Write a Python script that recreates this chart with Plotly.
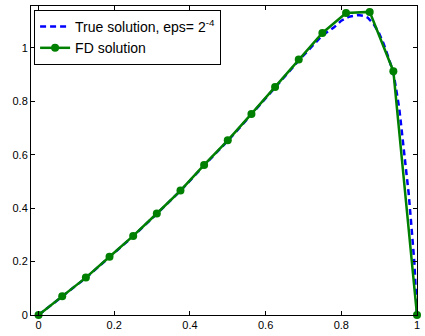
import plotly.graph_objects as go

# FD solution at x = k/16
fd_x = [0, 0.0625, 0.125, 0.1875, 0.25, 0.3125, 0.375, 0.4375, 0.5,
        0.5625, 0.625, 0.6875, 0.75, 0.8125, 0.875, 0.9375, 1.0]
fd_y = [0, 0.070, 0.140, 0.218, 0.296, 0.380, 0.466, 0.562, 0.654,
        0.753, 0.854, 0.957, 1.056, 1.131, 1.135, 0.913, 0]

# True solution
true_x = [0, 0.0625, 0.125, 0.1875, 0.25, 0.3125, 0.375, 0.4375, 0.5,
          0.5625, 0.625, 0.6875, 0.75, 0.78, 0.80, 0.82, 0.844, 0.86, 0.87,
          0.885, 0.899, 0.912, 0.925, 0.938, 0.953, 0.968, 0.978, 0.986,
          0.993, 1.0]
true_y = [0, 0.069, 0.139, 0.217, 0.295, 0.379, 0.465, 0.560, 0.652,
          0.751, 0.852, 0.953, 1.047, 1.076, 1.102, 1.117, 1.123, 1.120, 1.113,
          1.090, 1.058, 1.015, 0.962, 0.905, 0.775, 0.590, 0.455, 0.320,
          0.197, 0]

x_ticks = [0, 0.2, 0.4, 0.6, 0.8, 1]
x_tick_text = ["0", "0.2", "0.4", "0.6", "0.8", "1"]
y_ticks = [0, 0.2, 0.4, 0.6, 0.8, 1]
y_tick_text = ["0", "0.2", "0.4", "0.6", "0.8", "1"]

fig = go.Figure()
fig.add_trace(go.Scatter(
    x=true_x, y=true_y, mode="lines",
    name="True solution, eps= 2<sup>-4</sup>",
    line=dict(color="#0000FF", width=2.5, dash="6px,4px"),
))
fig.add_trace(go.Scatter(
    x=fd_x, y=fd_y, mode="lines+markers", name="FD solution",
    line=dict(color="#008000", width=2.5),
    marker=dict(color="#008000", size=8, symbol="circle"),
    cliponaxis=False,
))

axis_common = dict(
    showline=True, linecolor="black", linewidth=1, mirror="ticks",
    ticks="inside", ticklen=4, tickcolor="black", showgrid=False,
    zeroline=False, tickfont=dict(family="Liberation Sans", size=11, color="black"),
)
fig.update_xaxes(range=[-0.02, 1.0], tickvals=x_ticks, ticktext=x_tick_text, **axis_common)
fig.update_yaxes(range=[0, 1.157], tickvals=y_ticks, ticktext=y_tick_text, **axis_common)

fig.update_layout(
    width=425, height=336,
    margin=dict(l=31, r=5, t=6, b=17),
    plot_bgcolor="white", paper_bgcolor="white",
    font=dict(family="Liberation Sans", size=11, color="black"),
    legend=dict(
        x=0.008, y=0.987, xanchor="left", yanchor="top",
        bgcolor="white", bordercolor="black", borderwidth=1,
        font=dict(family="Liberation Sans", size=14, color="black"),
        itemwidth=30, tracegroupgap=0,
    ),
)

fig.write_html("out.html")
